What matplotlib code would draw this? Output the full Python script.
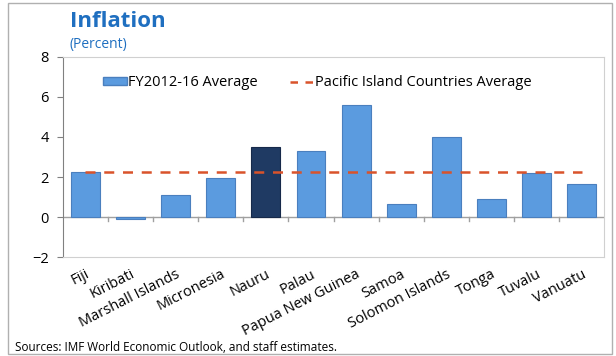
import matplotlib.pyplot as plt
import numpy as np
from matplotlib.lines import Line2D
from matplotlib.patches import Patch, Rectangle

countries = [
    "Fiji", "Kiribati", "Marshall Islands", "Micronesia", "Nauru", "Palau",
    "Papua New Guinea", "Samoa", "Solomon Islands", "Tonga", "Tuvalu", "Vanuatu",
]
avg_inflation = [2.25, -0.1, 1.1, 1.95, 3.5, 3.3, 5.6, 0.65, 4.0, 0.9, 2.2, 1.65]
pic_average = 2.25
highlight = "Nauru"

BAR_BLUE = "#5B9BDF"
BAR_EDGE = "#4A7FBE"
NAVY = "#1F3A63"
DASH_RED = "#D9532B"
TITLE_BLUE = "#1F6FC0"

plt.rcParams["font.family"] = ["Open Sans", "DejaVu Sans"]

fig = plt.figure(figsize=(6.16, 3.56), dpi=100)
ax = fig.add_axes([0.102, 0.278, 0.879, 0.562])

x = np.arange(len(countries))
colours = [NAVY if c == highlight else BAR_BLUE for c in countries]
edges = ["#16294A" if c == highlight else BAR_EDGE for c in countries]
ax.bar(x, avg_inflation, width=0.64, color=colours, edgecolor=edges,
       linewidth=0.8, zorder=3)
ax.plot([x[0], x[-1]], [pic_average, pic_average], color=DASH_RED,
        linestyle=(0, (4, 3.5)), linewidth=1.8, zorder=4)

ax.set_xlim(-0.5, len(countries) - 0.5)
ax.set_ylim(-2, 8)
ax.set_yticks([-2, 0, 2, 4, 6, 8])
ax.tick_params(axis="y", labelsize=10.5, length=4, color="#808080", pad=6)

# category axis drawn at zero, with ticks between the bars
ax.axhline(0, color="#A0A0A0", linewidth=1, zorder=2)
for b in np.arange(0.5, len(countries) - 0.5, 1.0):
    ax.plot([b, b], [0, -0.2], color="#A0A0A0", linewidth=1, zorder=2)
ax.set_xticks(x)
ax.set_xticklabels(countries, rotation=27, ha="right", rotation_mode="anchor",
                   fontsize=10.5)
ax.tick_params(axis="x", length=0, pad=7)

for side in ["top", "right"]:
    ax.spines[side].set_color("#D0D0D0")
ax.spines["bottom"].set_color("#D0D0D0")
ax.spines["left"].set_color("#808080")

handles = [
    Patch(facecolor=BAR_BLUE, edgecolor=BAR_EDGE),
    Line2D([0], [0], color=DASH_RED, linestyle=(0, (3, 3)), linewidth=1.8),
]
ax.legend(handles, ["FY2012-16 Average", "Pacific Island Countries Average"],
          loc="upper center", bbox_to_anchor=(0.47, 0.975), ncol=2, frameon=False,
          fontsize=10.5, handlelength=1.6, handleheight=0.45, handletextpad=0.1,
          columnspacing=2.2)

fig.text(0.113, 0.94, "Inflation", color=TITLE_BLUE, fontsize=16,
         fontweight="bold", va="center")
fig.text(0.113, 0.875, "(Percent)", color=TITLE_BLUE, fontsize=10,
         va="center")
fig.text(0.024, 0.024, "Sources: IMF World Economic Outlook, and staff estimates.",
         fontsize=8.5, va="center")

# outer frame around the panel
fig.patches.append(Rectangle((0.013, 0.006), 0.98, 0.985, transform=fig.transFigure,
                             fill=False, edgecolor="#B0B0B0", linewidth=1))

fig.savefig("out.png", dpi=100)
